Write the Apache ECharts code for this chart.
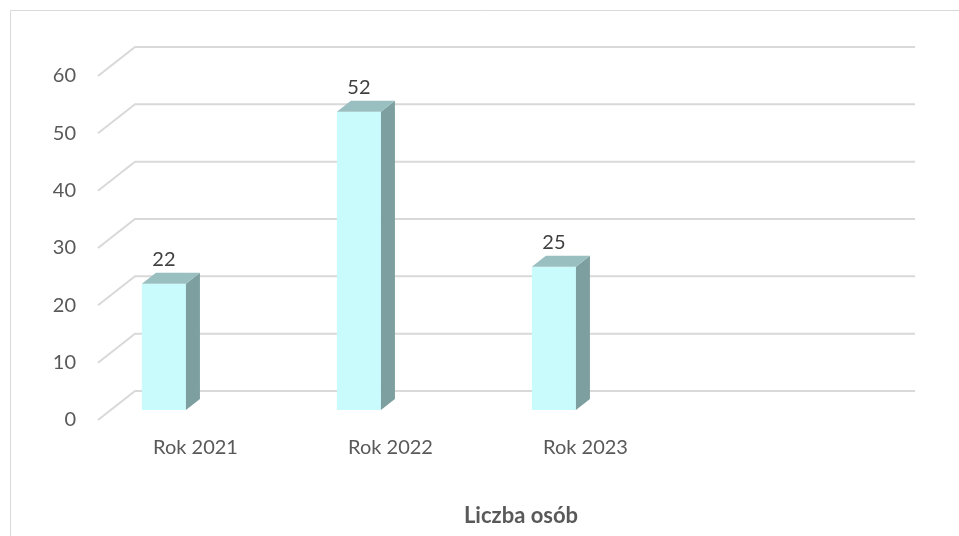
<!DOCTYPE html>
<html>
<head>
<meta charset="utf-8">
<script src="https://cdn.jsdelivr.net/npm/echarts@6/dist/echarts.min.js"></script>
<style>
html,body{margin:0;padding:0;background:#fff;}
#main{width:959px;height:536px;}
</style>
</head>
<body>
<div id="main"></div>
<script>
var categories = ['Rok 2021', 'Rok 2022', 'Rok 2023', ''];
var values = [22, 52, 25];
var yTicks = [0, 10, 20, 30, 40, 50, 60];
var titleText = 'Liczba osób';

var chart = echarts.init(document.getElementById('main'));
var FONT = 'Lato';
var DEPTH_X = 37, DEPTH_Y = -29;
var BAR_DX = 14, BAR_DY = -11, BAR_LIFT = 10;

var option = {
  animation: false,
  backgroundColor: '#ffffff',
  grid: { left: 98, right: 81, top: 76, bottom: 116 },
  xAxis: {
    type: 'category',
    data: categories,
    axisLine: { show: false },
    axisTick: { show: false },
    axisLabel: { fontFamily: FONT, fontSize: 20, color: '#595959', margin: 18 }
  },
  yAxis: {
    type: 'value',
    min: 0, max: 60, interval: 10,
    axisLine: { show: false },
    axisTick: { show: false },
    splitLine: { show: false },
    axisLabel: { fontFamily: FONT, fontSize: 20, color: '#595959', margin: 22 }
  },
  graphic: [
    { type: 'rect', shape: { x: 10.5, y: 10.5, width: 1000, height: 1000 },
      style: { fill: 'none', stroke: '#D9D9D9', lineWidth: 1 }, z: -10 },
    { type: 'text', x: 521, y: 516,
      style: { text: titleText, fontFamily: FONT, fontSize: 22, fontWeight: 'bold',
               fill: '#595959', textAlign: 'center', textVerticalAlign: 'middle' } }
  ],
  series: [
    {
      type: 'custom',
      silent: true,
      clip: false,
      z: 1,
      data: yTicks.map(function (v) { return [0, v]; }),
      renderItem: function (params, api) {
        var cs = params.coordSys;
        var y = api.coord([0, api.value(1)])[1];
        var x0 = cs.x, x1 = cs.x + cs.width;
        return {
          type: 'polyline',
          shape: { points: [[x0, y], [x0 + DEPTH_X, y + DEPTH_Y], [x1 + DEPTH_X, y + DEPTH_Y]] },
          style: { stroke: '#D9D9D9', lineWidth: 2, fill: 'none' }
        };
      }
    },
    {
      type: 'custom',
      clip: false,
      z: 2,
      data: values.map(function (v, i) { return [i, v]; }),
      renderItem: function (params, api) {
        var idx = api.value(0), val = api.value(1);
        var c = api.coord([idx, val]);
        var c0 = api.coord([idx, 0]);
        var band = api.size([1, 0])[0];
        var w = band * 0.226;
        var l = c[0] - band * 0.275;
        var top = c[1] - BAR_LIFT;
        var bot = c0[1] - BAR_LIFT;
        var r = l + w;
        return {
          type: 'group',
          children: [
            { type: 'rect', shape: { x: l, y: top, width: w, height: bot - top },
              style: { fill: '#C9FAFC' } },
            { type: 'polygon', shape: { points: [[r, top], [r + BAR_DX, top + BAR_DY], [r + BAR_DX, bot + BAR_DY], [r, bot]] },
              style: { fill: '#7E9F9F' } },
            { type: 'polygon', shape: { points: [[l, top], [l + BAR_DX, top + BAR_DY], [r + BAR_DX, top + BAR_DY], [r, top]] },
              style: { fill: '#99BFC0' } },
            { type: 'text', x: l + w / 2, y: top - 24,
              style: { text: String(val), fontFamily: FONT, fontSize: 20, fill: '#404040',
                       textAlign: 'center', textVerticalAlign: 'middle' } }
          ]
        };
      }
    }
  ]
};
chart.setOption(option);
</script>
</body>
</html>
